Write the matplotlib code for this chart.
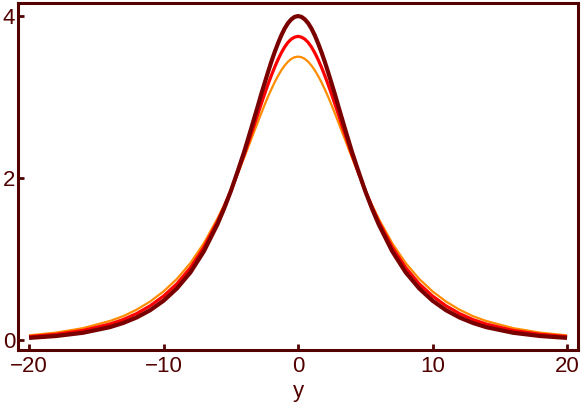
import numpy as np
import matplotlib
matplotlib.use("Agg")
import matplotlib.pyplot as plt

# values (curves are symmetric about y = 0)
x_half = [0, 0.25, 0.5, 0.75, 1, 1.25, 1.5, 1.75, 2, 2.25, 2.5, 2.75, 3, 3.25, 3.5, 3.75,
          4, 4.5, 5, 5.5, 6, 7, 8, 9, 10, 11, 12, 13, 14, 16, 18, 20]
orange_half = [3.50, 3.493, 3.472, 3.437, 3.389, 3.33, 3.259, 3.18, 3.092, 3.00, 2.899, 2.795,
               2.688, 2.58, 2.474, 2.366, 2.258, 2.05, 1.85, 1.67, 1.50, 1.20,
               0.955, 0.76, 0.605, 0.48, 0.38, 0.30, 0.24, 0.152, 0.097, 0.063]
red_half = [3.75, 3.74, 3.716, 3.675, 3.617, 3.545, 3.46, 3.365, 3.261, 3.15, 3.032, 2.91,
            2.787, 2.66, 2.54, 2.416, 2.294, 2.065, 1.845, 1.648, 1.465, 1.15,
            0.898, 0.70, 0.548, 0.427, 0.332, 0.258, 0.202, 0.124, 0.076, 0.048]
dark_half = [4.00, 3.99, 3.96, 3.912, 3.845, 3.76, 3.66, 3.55, 3.43, 3.30, 3.165, 3.03,
             2.885, 2.745, 2.605, 2.467, 2.33, 2.08, 1.84, 1.625, 1.43, 1.10,
             0.84, 0.643, 0.49, 0.373, 0.284, 0.216, 0.164, 0.095, 0.055, 0.032]

xticks = [-20, -10, 0, 10, 20]
xticklabels = ["\u221220", "\u221210", "0", "10", "20"]
yticks = [0, 2, 4]


def mirror(xs, vs):
    xs = np.asarray(xs, float)
    vs = np.asarray(vs, float)
    return np.concatenate([-xs[:0:-1], xs]), np.concatenate([vs[:0:-1], vs])


fc = "#520000"
plt.rcParams["font.family"] = ["Liberation Sans", "DejaVu Sans"]

fig = plt.figure(figsize=(5.81, 4.20), dpi=100)
ax = fig.add_axes([0.031, 0.1667, 0.964, 0.826])

for vals, col, lw in [(orange_half, "#ff8c00", 1.6),
                      (red_half, "#ff0000", 2.3),
                      (dark_half, "#7a0000", 3.0)]:
    xx, yy = mirror(x_half, vals)
    ax.plot(xx, yy, color=col, lw=lw, solid_capstyle="butt", solid_joinstyle="round")

ax.set_xlim(-20.82, 20.82)
ax.set_ylim(-0.117, 4.16)
ax.set_xticks(xticks)
ax.set_yticks(yticks)
ax.set_xticklabels(xticklabels)
for s in ax.spines.values():
    s.set_color(fc)
    s.set_linewidth(2.2)
ax.tick_params(direction="in", length=4, width=2, color=fc, labelcolor=fc,
               labelsize=16, pad=4)
ax.tick_params(axis="y", pad=2)
ax.set_xlabel("y", fontsize=16, color=fc, labelpad=3)

fig.savefig("out.png", dpi=100)
